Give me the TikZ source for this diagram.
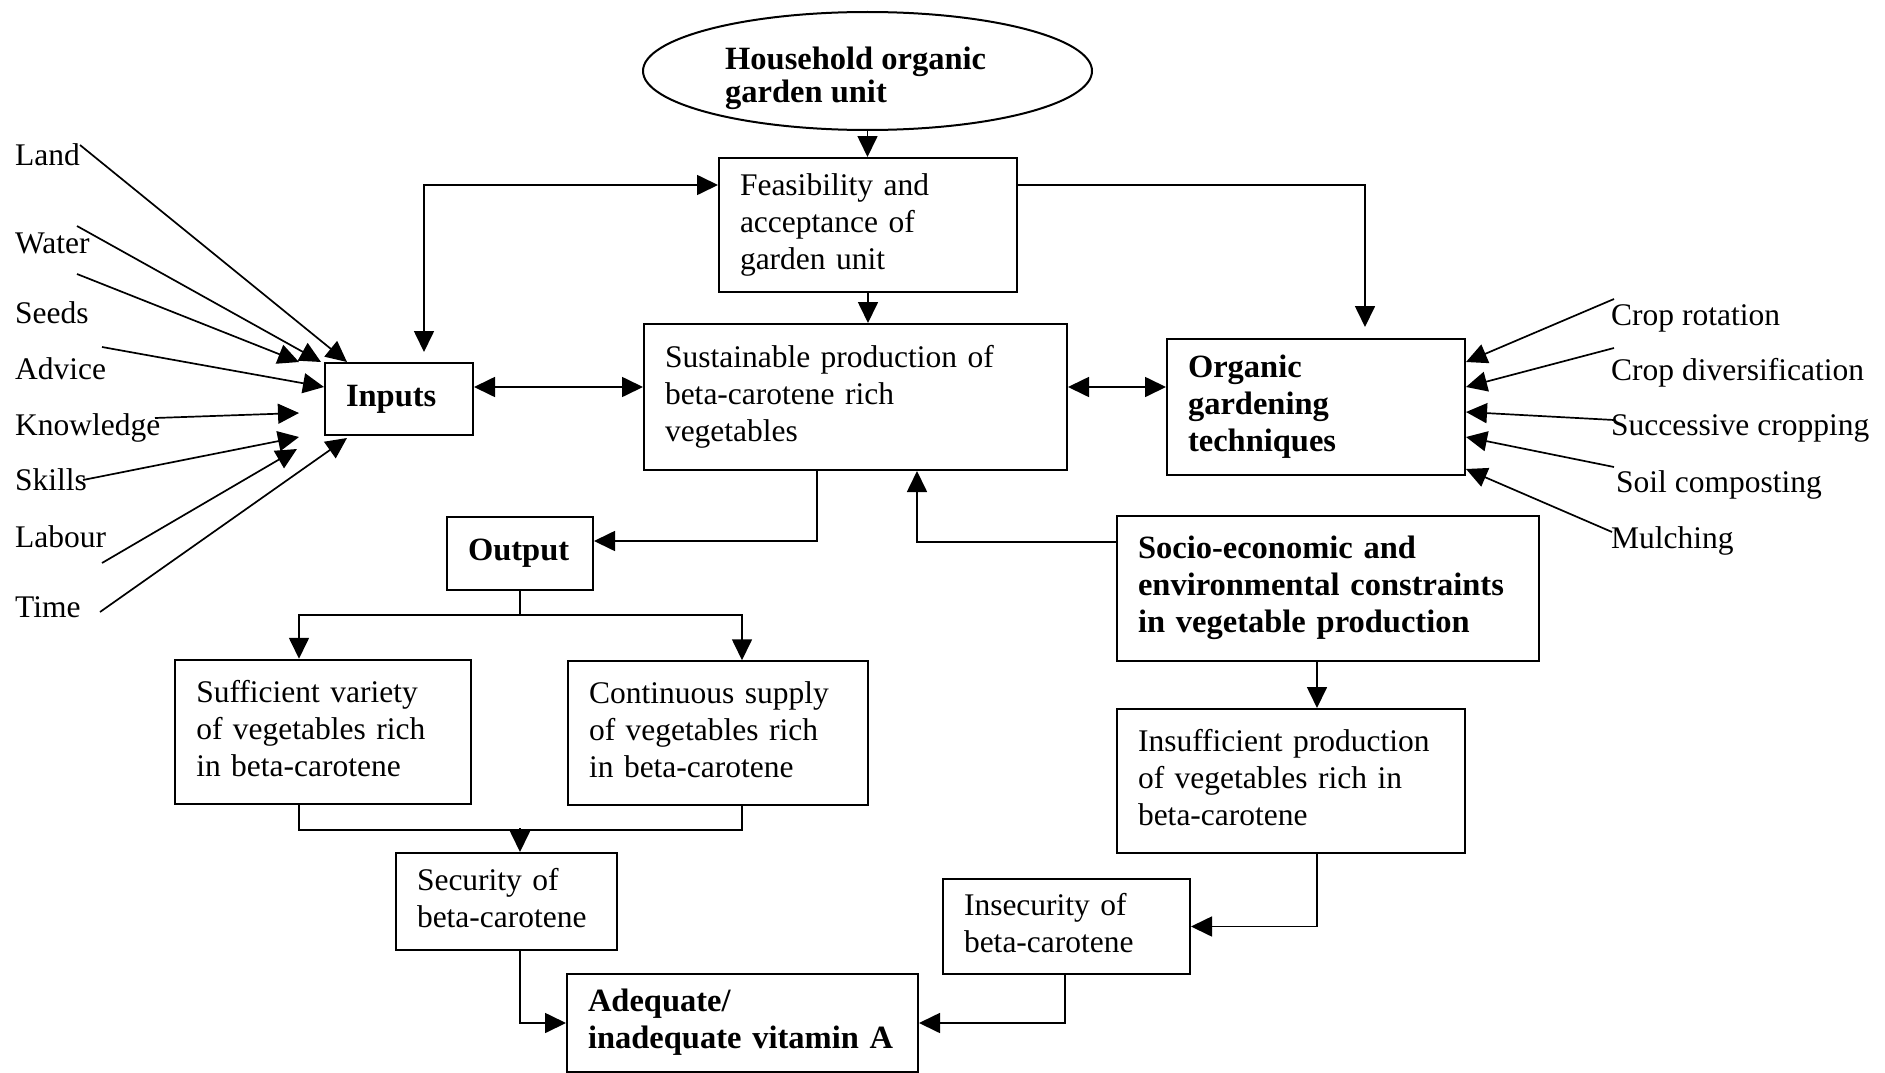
\documentclass[tikz,border=0pt]{standalone}
\usepackage{fontspec}
\setmainfont{Liberation Serif}
\usetikzlibrary{arrows.meta,shapes.geometric,calc}
\newcommand\fsz{\fontsize{31.5}{37}\selectfont}
\newcommand\bsz{\fontsize{32.5}{37}\selectfont\bfseries}
\begin{document}
\begin{tikzpicture}[x=1pt,y=-1pt,
  every node/.style={font=\fsz},
  box/.style={draw,line width=2pt,rectangle,inner xsep=21pt,inner ysep=0pt,align=left,
    execute at begin node=\strut, execute at end node=\strut},
  bbox/.style={box,font=\bsz},
  lbl/.style={inner sep=0pt,anchor=base west},
  conn/.style={line width=1.7pt},
  arr/.style={conn,-{Triangle[length=21pt,width=20pt]}},
  darr/.style={conn,{Triangle[length=21pt,width=20pt]}-{Triangle[length=21pt,width=20pt]}},
]
\useasboundingbox (0,0) rectangle (1885,1073);

% ellipse
\node[draw,line width=2pt,ellipse,minimum width=449pt,minimum height=118pt,inner sep=0pt] (unit) at (867.5,71) {};
\node[font=\fontsize{32.5}{33}\selectfont\bfseries,align=left,anchor=west,inner sep=0pt] (unittext) at (725,78) {Household organic\\garden unit};

% boxes
\node[box,text width=256pt,minimum height=134pt] (feas) at (868,225) {Feasibility and\\acceptance of\\garden unit};
\node[box,text width=381pt,minimum height=146pt] (sust) at (855.5,397) {Sustainable production of\\beta-carotene rich\\vegetables};
\node[bbox,text width=106pt,minimum height=72pt] (inputs) at (399,399) {Inputs};
\node[bbox,text width=256pt,minimum height=136pt] (organic) at (1316,407) {Organic\\gardening\\techniques};
\node[bbox,text width=104pt,minimum height=73pt] (output) at (520,553.5) {Output};
\node[bbox,text width=380pt,minimum height=145pt] (socio) at (1328,588.5) {Socio-economic and\\environmental constraints\\in vegetable production};
\node[box,text width=306pt,minimum height=144pt] (insuf) at (1291,781) {Insufficient production\\of vegetables rich in\\beta-carotene};
\node[box,text width=253.5pt,minimum height=144.5pt] (suff) at (323,732) {Sufficient variety\\of vegetables rich\\in beta-carotene};
\node[box,text width=258pt,minimum height=143.5pt] (cont) at (718,733) {Continuous supply\\of vegetables rich\\in beta-carotene};
\node[box,text width=179pt,minimum height=97pt] (secur) at (506.5,901.5) {Security of\\beta-carotene};
\node[box,text width=205pt,minimum height=95pt] (insec) at (1066.5,926.5) {Insecurity of\\beta-carotene};
\node[bbox,text width=309pt,minimum height=98pt] (adeq) at (742.5,1023) {Adequate/\\inadequate vitamin A};

% left labels
\node[lbl] (land) at (15,165) {Land};
\node[lbl] (water) at (15,253) {Water};
\node[lbl] (seeds) at (15,323) {Seeds};
\node[lbl] (advice) at (15,379) {Advice};
\node[lbl] (knowledge) at (15,435) {Knowledge};
\node[lbl] (skills) at (15,490) {Skills};
\node[lbl] (labour) at (15,547) {Labour};
\node[lbl] (time) at (15,617) {Time};

% right labels
\node[lbl] (rot) at (1611,325) {Crop rotation};
\node[lbl] (div) at (1611,380) {Crop diversification};
\node[lbl] (succ) at (1611,435) {Successive cropping};
\node[lbl] (soil) at (1616,492) {Soil composting};
\node[lbl] (mulch) at (1611,548) {Mulching};

% free ends of input arrows
\coordinate (sLand) at (80,145);
\coordinate (sWater) at (77,226);
\coordinate (sSeeds) at (77,274);
\coordinate (sAdvice) at (102,347);
\coordinate (sKnow) at (155,418);
\coordinate (sSkills) at (83,480);
\coordinate (sLabour) at (102,563);
\coordinate (sTime) at (100,612);
\coordinate (sRot) at (1614,299);
\coordinate (sDiv) at (1614,348);
\coordinate (sSucc) at (1614,420);
\coordinate (sSoil) at (1614,467);
\coordinate (sMulch) at (1612,532);

\draw[arr] (sLand) -- ([xshift=23pt]inputs.north west);
\draw[arr] (sWater) -- ([xshift=-3pt]inputs.north west);
\draw[arr] (sSeeds) -- ([xshift=-25pt]inputs.north west);
\draw[arr] (sAdvice) -- ([yshift=12pt]inputs.west);
\draw[arr] (sKnow) -- ([xshift=-25pt,yshift=-14pt]inputs.west);
\draw[arr] (sSkills) -- ([xshift=-25pt,yshift=-1pt]inputs.south west);
\draw[arr] (sLabour) -- ([xshift=-27pt,yshift=-13pt]inputs.south west);
\draw[arr] (sTime) -- ([xshift=23pt,yshift=-2pt]inputs.south west);

\draw[arr] (sRot) -- ([yshift=45pt]organic.east);
\draw[arr] (sDiv) -- ([yshift=20pt]organic.east);
\draw[arr] (sSucc) -- ([yshift=-5pt]organic.east);
\draw[arr] (sSoil) -- ([yshift=-30pt]organic.east);
\draw[arr] (sMulch) -- ([yshift=-62pt]organic.east);

% main connectors
\draw[arr] (unit.south) -- (unit.south |- feas.north);
\draw[arr] (feas.south) -- (feas.south |- sust.north);
\draw[darr] ([xshift=25pt,yshift=10pt]inputs.north) |- ([yshift=40pt]feas.west);
\draw[arr] ([yshift=40pt]feas.east) -| ([xshift=49pt,yshift=11pt]organic.north);
\draw[darr] ([yshift=12pt]inputs.east) -- ([yshift=12pt]inputs.east -| sust.west);
\draw[darr] ([yshift=10pt]sust.east) -- ([yshift=10pt]sust.east -| organic.west);
\draw[arr] ([xshift=-38.5pt]sust.south) |- ([yshift=12.5pt]output.east);
\draw[arr] ([yshift=46.5pt]socio.west) -| ([xshift=61.5pt]sust.south);
\draw[arr] (output.south) -- ++(0,24) -| ([xshift=-24pt]suff.north);
\draw[arr] (output.south) -- ++(0,24) -| ([xshift=24pt]cont.north);
\draw[conn] ([xshift=-24pt]suff.south) -- ++(0,24.5) -| ([xshift=24pt]cont.south);
\draw[arr] ([xshift=13.5pt,yshift=24pt]secur.north) -- ([xshift=13.5pt]secur.north);
\draw[arr] ([xshift=13.5pt]secur.south) |- (adeq.west);
\draw[arr] ([xshift=-11pt]socio.south) -- ([xshift=-11pt]socio.south |- insuf.north);
\draw[arr] ([xshift=26pt]insuf.south) |- (insec.east);
\draw[arr] ([xshift=-1.5pt]insec.south) |- (adeq.east);
\end{tikzpicture}
\end{document}
